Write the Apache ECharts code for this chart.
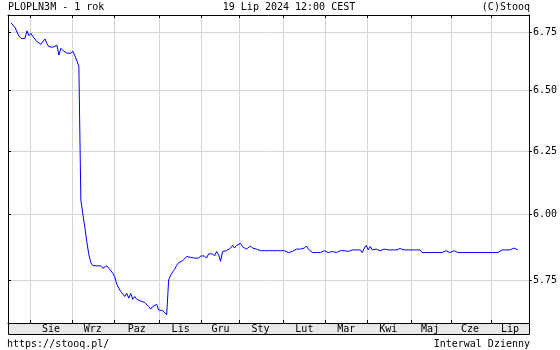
<!DOCTYPE html>
<html><head><meta charset="utf-8">
<script src="https://cdn.jsdelivr.net/npm/echarts@6/dist/echarts.min.js"></script>
<style>html,body{margin:0;padding:0;background:#fff}#c{width:560px;height:350px}</style>
</head><body><div id="c"></div>
<script>
// ---- data ----
const monthLabels = ['Sie','Wrz','Paz','Lis','Gru','Sty','Lut','Mar','Kwi','Maj','Cze','Lip'];
// index of the first trading day of each month (day 0 = first session on the chart)
const monthStartDay = [11, 32, 53, 76, 97, 116, 138, 159, 180, 202, 222, 242];
const tradingDays = 261;
const firstValueDay = 1;
const yTicks = [5.75, 6.00, 6.25, 6.50, 6.75];
const yMin = 5.5924, yMax = 6.8246;
// PLOPLN3M daily values
const plopln3m = [
  6.79, 6.783, 6.77, 6.75, 6.732, 6.722, 6.72, 6.722, 6.755, 6.734,
  6.744, 6.73, 6.722, 6.708, 6.70, 6.697, 6.70, 6.72, 6.70, 6.686,
  6.693, 6.684, 6.69, 6.693, 6.65, 6.679, 6.67, 6.664, 6.658, 6.664,
  6.658, 6.667, 6.647, 6.625, 6.603, 6.055, 6.00, 5.95, 5.893, 5.845,
  5.815, 5.804, 5.81, 5.803, 5.803, 5.803, 5.794, 5.794, 5.803, 5.794,
  5.785, 5.775, 5.762, 5.735, 5.72, 5.707, 5.701, 5.689, 5.701, 5.683,
  5.70, 5.679, 5.689, 5.679, 5.676, 5.672, 5.667, 5.667, 5.67, 5.652,
  5.643, 5.652, 5.648, 5.66, 5.64, 5.64, 5.637, 5.632, 5.622, 5.75,
  5.768, 5.78, 5.79, 5.805, 5.815, 5.81, 5.822, 5.828, 5.838, 5.832,
  5.835, 5.838, 5.832, 5.832, 5.832, 5.84, 5.84, 5.84, 5.832, 5.848,
  5.85, 5.848, 5.84, 5.857, 5.845, 5.82, 5.857, 5.863, 5.86, 5.857,
  5.87, 5.88, 5.87, 5.88, 5.885, 5.888, 5.875, 5.87, 5.866, 5.87,
  5.878, 5.87, 5.863, 5.866, 5.87, 5.86, 5.86, 5.86, 5.86, 5.86,
  5.86, 5.86, 5.86, 5.86, 5.86, 5.86, 5.86, 5.86, 5.853, 5.853,
  5.853, 5.857, 5.863, 5.866, 5.87, 5.866, 5.87, 5.87, 5.878, 5.866,
  5.87, 5.853, 5.853, 5.853, 5.86, 5.853, 5.853, 5.86, 5.853, 5.853,
  5.853, 5.857, 5.86, 5.853, 5.857, 5.86, 5.853, 5.86, 5.853, 5.857,
  5.863, 5.863, 5.863, 5.863, 5.863, 5.863, 5.853, 5.87, 5.88, 5.863,
  5.876, 5.863, 5.866, 5.866, 5.866, 5.86, 5.863, 5.866, 5.863, 5.863,
  5.863, 5.863, 5.866, 5.863, 5.86, 5.868, 5.866, 5.863, 5.863, 5.863,
  5.863, 5.863, 5.863, 5.863, 5.863, 5.863, 5.853, 5.86, 5.853, 5.853,
  5.853, 5.853, 5.853, 5.86, 5.853, 5.853, 5.853, 5.853, 5.86, 5.853,
  5.853, 5.853, 5.86, 5.853, 5.853, 5.853, 5.853, 5.853, 5.853, 5.853,
  5.853, 5.86, 5.853, 5.853, 5.853, 5.853, 5.853, 5.853, 5.853, 5.853,
  5.853, 5.853, 5.853, 5.86, 5.853, 5.853, 5.863, 5.863, 5.863, 5.863,
  5.863, 5.863, 5.87, 5.863, 5.863
];

// ---- build ----
const FONT = '"DejaVu Sans Mono", "Liberation Mono", monospace';
const days = Array.from({length: tradingDays}, (_, i) => 'd' + i);
const seriesData = days.map((_, i) => {
  const v = plopln3m[i - firstValueDay];
  return v === undefined ? null : v;
});
const boundarySet = new Set(monthStartDay);
const labelAt = {};
monthStartDay.forEach((s, m) => {
  const e = m + 1 < monthStartDay.length ? monthStartDay[m + 1] : tradingDays;
  labelAt[Math.floor((s + e) / 2 - 0.5)] = monthLabels[m];
});
const isBoundary = (idx) => boundarySet.has(idx);
const GRID = '#d6d6d6';

const chart = echarts.init(document.getElementById('c'), null, {renderer: 'canvas'});
chart.setOption({
  animation: false,
  backgroundColor: '#ffffff',
  grid: {left: 8, right: 30, top: 15, bottom: 27, containLabel: false},
  xAxis: [{
    type: 'category', data: days, boundaryGap: true, position: 'bottom',
    axisLine: {show: true, lineStyle: {color: '#000', width: 1}},
    axisTick: {show: true, inside: true, length: 3, interval: isBoundary, lineStyle: {color: '#000'}},
    axisLabel: {show: true, interval: (idx) => labelAt[idx] !== undefined,
      formatter: (v, idx) => labelAt[idx] || '', margin: 6, verticalAlign: 'middle',
      color: '#000', fontFamily: FONT, fontSize: 10},
    splitLine: {show: true, interval: isBoundary, lineStyle: {color: GRID, width: 1}}
  }, {
    type: 'category', data: days, boundaryGap: true, position: 'top',
    axisLine: {show: true, lineStyle: {color: '#000', width: 1}},
    axisTick: {show: true, inside: true, length: 3, interval: isBoundary, lineStyle: {color: '#000'}},
    axisLabel: {show: false}, splitLine: {show: false}
  }],
  yAxis: [{
    type: 'log', logBase: 10, position: 'right', min: yMin, max: yMax,
    axisLine: {show: true, lineStyle: {color: '#000', width: 1}},
    axisTick: {show: true, inside: false, length: 3, customValues: yTicks, lineStyle: {color: '#000'}},
    axisLabel: {show: true, customValues: yTicks, formatter: (v) => Number(v).toFixed(2),
      margin: 4, color: '#000', fontFamily: FONT, fontSize: 10},
    splitLine: {show: true, lineStyle: {color: GRID, width: 1}},
    minorTick: {show: false}, minorSplitLine: {show: false}
  }, {
    type: 'log', logBase: 10, position: 'left', min: yMin, max: yMax,
    axisLine: {show: true, lineStyle: {color: '#000', width: 1}},
    axisTick: {show: true, inside: true, length: 3, customValues: yTicks, lineStyle: {color: '#000'}},
    axisLabel: {show: false}, splitLine: {show: false}
  }],
  series: [{
    type: 'line', xAxisIndex: 0, yAxisIndex: 0, data: seriesData,
    symbol: 'none', showSymbol: false, smooth: false, connectNulls: false,
    lineStyle: {color: '#0000ff', width: 1}, z: 5
  }],
  graphic: [
    {type: 'rect', z: -1, silent: true, shape: {x: 8.5, y: 323.5, width: 521, height: 11},
      style: {fill: '#e8e8e8', stroke: '#000', lineWidth: 1}},
    {type: 'text', x: 8, y: 7, style: {text: 'PLOPLN3M - 1 rok', font: '10px ' + FONT, fill: '#000', align: 'left', verticalAlign: 'middle'}},
    {type: 'text', x: 289, y: 7, style: {text: '19 Lip 2024 12:00 CEST', font: '10px ' + FONT, fill: '#000', align: 'center', verticalAlign: 'middle'}},
    {type: 'text', x: 530, y: 7, style: {text: '(C)Stooq', font: '10px ' + FONT, fill: '#000', align: 'right', verticalAlign: 'middle'}},
    {type: 'text', x: 7, y: 344, style: {text: 'https://stooq.pl/', font: '10px ' + FONT, fill: '#000', align: 'left', verticalAlign: 'middle'}},
    {type: 'text', x: 530, y: 344, style: {text: 'Interwal Dzienny', font: '10px ' + FONT, fill: '#000', align: 'right', verticalAlign: 'middle'}}
  ]
});
</script>
</body></html>
